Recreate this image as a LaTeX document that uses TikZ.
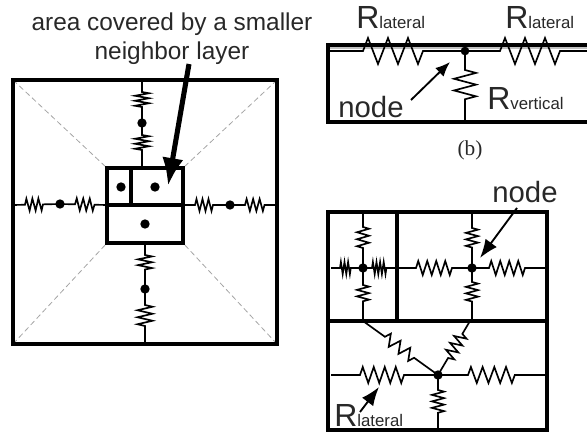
\documentclass[tikz,border=0pt]{standalone}
\usepackage{fontspec}
\setmainfont{Liberation Sans}
\newfontfamily\capfont{Liberation Serif}
\usetikzlibrary{arrows.meta, positioning, calc, decorations.pathmorphing}
\definecolor{inktext}{RGB}{40,40,40}
\definecolor{guide}{RGB}{165,165,165}
\def\pxu{0.75pt}
\newcommand{\Rsub}[1]{R{\fontsize{12.6}{15}\selectfont #1}}
\tikzset{
  frame/.style={draw=black, line width=2.6pt},
  divider/.style={draw=black, line width=2.45pt},
  wire/.style={draw=black, line width=1.25pt},
  res/.style n args={4}{wire, decorate, decoration={zigzag, pre length=#1*\pxu,
                post length=#2*\pxu, segment length=#3*\pxu, amplitude=#4*\pxu}},
  junc/.style={circle, fill=black, inner sep=0pt, minimum size=7pt},
  diag/.style={draw=guide, line width=0.6pt, dash pattern=on 4pt off 2.5pt},
  label/.style={font=\fontsize{18.3}{21}\selectfont, text=inktext, inner sep=0pt},
  biglabel/.style={label, font=\fontsize{22}{26}\selectfont},
  rlabel/.style={label, anchor=base west, font=\fontsize{24}{28}\selectfont},
  flecha/.style={-{Latex[length=11pt, width=9pt]}, line width=1.4pt},
  largeflecha/.style={-{Latex[length=14pt, width=10.5pt]}, line width=1.4pt},
  bigflecha/.style={-{Latex[length=21pt, width=16pt]}, line width=3.8pt}
}
\begin{document}
\begin{tikzpicture}[x=0.75pt, y=-0.75pt]
    \useasboundingbox (0,0) rectangle (587,432);
    % left picture
    \node[label, align=center, font=\fontsize{18.3}{22}\selectfont] (cover) at (172,38.5)
          {area covered by a smaller\\neighbor layer};
    \coordinate (nw) at (13,80);
    \coordinate (ne) at (277,80);
    \coordinate (sw) at (13,344);
    \coordinate (se) at (277,344);
    \coordinate (inw) at (107,168);
    \coordinate (ine) at (183,168);
    \coordinate (isw) at (107,243);
    \coordinate (ise) at (183,243);
    \foreach \a/\b in {nw/inw, ne/ine, sw/isw, se/ise}
      \draw[diag] (\a) -- (\b);
    \draw[frame] (nw) rectangle (se);
    \draw[divider] (inw) rectangle (ise);
    \coordinate (midl) at (107,205);
    \coordinate (midr) at (183,205);
    \draw[divider] (midl) -- (midr);
    \draw[divider] (131,168) -- (131,205);
    \node[junc] (cellA) at (121,187) {};
    \node[junc] (cellB) at (155,187) {};
    \node[junc] (cellC) at (145,224) {};
    \node[junc] (top) at (142,123) {};
    \node[junc] (bot) at (145,289) {};
    \node[junc] (lft) at (60,204) {};
    \node[junc] (rgt) at (230,205) {};
    \draw[res={12}{16}{5}{7}] (142,80) -- (top.center);
    \draw[res={12}{16}{5}{7}] (top.center) -- (142,168);
    \draw[res={12}{17}{5.8}{7}] (145,243) -- (bot.center);
    \draw[res={16}{17}{7}{7.5}] (bot.center) -- (145,344);
    \draw[res={12}{17}{6}{6}] (13,205) -- (lft.center);
    \draw[res={15}{12}{6.5}{6}] (lft.center) -- (midl);
    \draw[res={12}{17}{6}{6}] (midr) -- (rgt.center);
    \draw[res={15}{12}{6.5}{6}] (rgt.center) -- (277,205);
    \draw[bigflecha] (189,64) -- (168,186);
    % top right picture
    \coordinate (bl) at (328,122);
    \coordinate (br) at (587,122);
    \coordinate (tl) at (328,45);
    \coordinate (tr) at (587,45);
    \draw[draw=guide!70, line width=1.5pt] (329,48) -- (tr|-0,48);
    \draw[frame] (br) -- (bl) -- (tl) -- (tr);
    \node[junc, minimum size=6.5pt] (mid) at (465,51) {};
    \draw[res={35}{42}{20}{13}] (328,51) -- (mid.center);
    \draw[res={35}{27}{20}{13}] (mid.center) -- (587,51);
    \draw[res={19}{17}{11.7}{11}] (mid.center) -- (465,122);
    \node[rlabel] (rl) at (356,28) {\Rsub{lateral}};
    \node[rlabel] (rr) at (505,28) {\Rsub{lateral}};
    \node[rlabel] (rv) at (487,109) {\Rsub{vertical}};
    \node[biglabel] (nodeb) at (371,107) {node};
    \draw[flecha] (411,100) -- (450,62);
    \node[font=\capfont\fontsize{16}{18}\selectfont, text=inktext, inner sep=0pt] (capb) at (470,150) {(b)};
    % bottom right picture
    \coordinate (cnw) at (328,212);
    \coordinate (cse) at (547,430);
    \draw[frame] (cnw) rectangle (cse);
    \coordinate (hl) at (328,321);
    \coordinate (hr) at (547,321);
    \draw[divider] (hl) -- (hr);
    \draw[divider] (397,212) -- (397,321);
    \node[junc] (ca) at (363,268) {};
    \node[junc] (cb) at (472,268) {};
    \node[junc] (cc) at (438,375) {};
    \draw[res={15}{18}{7}{6}] (363,212) -- (ca.center);
    \draw[res={17}{17}{6.5}{6}] (ca.center) -- (363,321);
    \draw[res={9}{11}{3.6}{6}] (331,268) -- (ca.center);
    \draw[res={9}{9}{3.6}{6}] (ca.center) -- (397,268);
    \draw[res={19}{20}{9}{7}] (397,268) -- (cb.center);
    \draw[res={17}{22}{9}{7}] (cb.center) -- (547,268);
    \draw[res={16}{18}{6.5}{6}] (472,212) -- (cb.center);
    \draw[res={14}{17}{6.5}{6}] (cb.center) -- (472,321);
    \draw[res={29}{33}{11}{8}] (331,375) -- (cc.center);
    \draw[res={30}{32}{11.7}{8}] (cc.center) -- (547,375);
    \draw[res={27}{27}{12}{6}] (363,321) -- (cc.center);
    \draw[res={15}{17}{8}{6}] (470,321) -- (cc.center);
    \draw[res={15}{15}{6.5}{6}] (cc.center) -- (438,430);
    \node[biglabel] (nodec) at (525,192) {node};
    \draw[largeflecha] (517,208) -- (480,258);
    \node[rlabel] (rc) at (334,426) {\Rsub{lateral}};
    \draw[largeflecha] (360,412) -- (379,387);
\end{tikzpicture}
\end{document}
